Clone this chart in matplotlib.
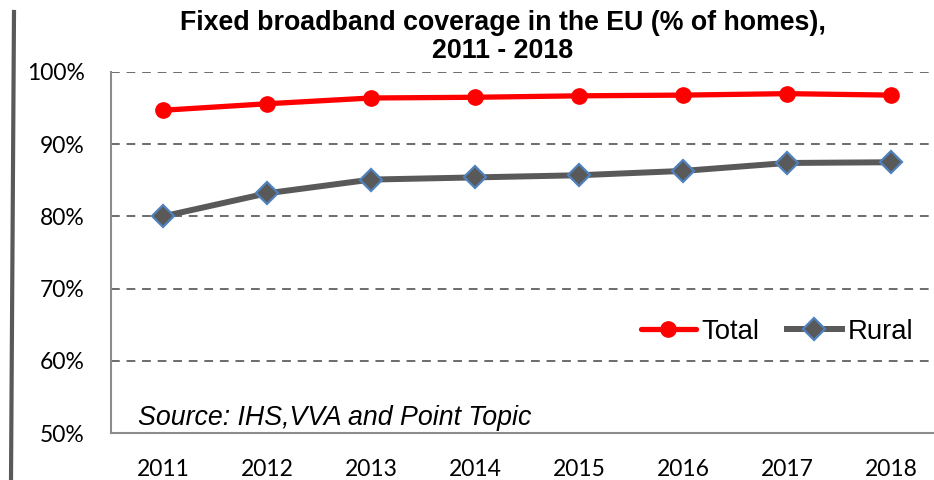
import matplotlib
matplotlib.use("Agg")
import matplotlib.pyplot as plt
from matplotlib.lines import Line2D
from matplotlib.ticker import FuncFormatter

years = ["2011", "2012", "2013", "2014", "2015", "2016", "2017", "2018"]
total = [94.7, 95.6, 96.4, 96.5, 96.7, 96.8, 97.0, 96.8]
rural = [80.0, 83.2, 85.1, 85.4, 85.7, 86.3, 87.4, 87.5]
yticks = [50, 60, 70, 80, 90, 100]

plt.rcParams['font.family'] = ['Liberation Sans', 'DejaVu Sans']

W, H = 934, 480
fig = plt.figure(figsize=(W / 100, H / 100), dpi=100)
left, right, top, bottom = 111, 943, 72, 433
ax = fig.add_axes([left / W, 1 - bottom / H, (right - left) / W, (bottom - top) / H])

x = list(range(len(years)))
ax.plot(x, total, color='#ff0000', lw=3.8, marker='o', ms=11, label='Total',
        solid_capstyle='round', zorder=4)
ax.plot(x, rural, color='#595959', lw=4.3, marker='D', ms=11, mfc='#595959',
        mec='#4f81bd', mew=1.6, label='Rural', zorder=4)

ax.set_xlim(-0.5, len(years) - 0.5)
ax.set_ylim(50, 100)
ax.set_xticks(x)
ax.set_xticklabels(years)
ax.set_yticks(yticks)
ax.yaxis.set_major_formatter(FuncFormatter(lambda v, p: f"{v:.0f}%"))
ax.tick_params(axis='both', length=0, labelsize=16.5, colors='black')
for lab in ax.get_xticklabels() + ax.get_yticklabels():
    lab.set_family(['Lato', 'DejaVu Sans'])
ax.tick_params(axis='y', pad=19)
ax.tick_params(axis='x', pad=19)

for v in yticks[1:]:
    ax.axhline(v, color='#6b6b6b', lw=1.4, ls=(0, (4.5, 3.5)), zorder=1)

for s in ['top', 'right']:
    ax.spines[s].set_visible(False)
for s in ['left', 'bottom']:
    ax.spines[s].set_color('#8c8c8c')
    ax.spines[s].set_linewidth(1.5)

fig.text(503 / W, 1 - 23 / H, "Fixed broadband coverage in the EU (% of homes),",
         ha='center', va='center', fontsize=19.3, fontweight='bold')
fig.text(503 / W, 1 - 51 / H, "2011 - 2018", ha='center', va='center',
         fontsize=19.3, fontweight='bold')

fig.text(138 / W, 1 - 418 / H, "Source: IHS,VVA and Point Topic", ha='left',
         va='center', fontsize=19.3, style='italic')

leg = ax.legend(loc='center left', bbox_to_anchor=((641 - left) / (right - left), (433 - 332) / (bottom - top)),
                ncol=2, frameon=False, fontsize=19.8, handlelength=2.0,
                handletextpad=0.2, columnspacing=1.0, borderaxespad=0,
                borderpad=0)

fig.add_artist(Line2D([14 / W, 11 / W], [1 - 12 / H, 0], color='#595959', lw=3,
                      transform=fig.transFigure))

fig.savefig("out.png", dpi=100)
